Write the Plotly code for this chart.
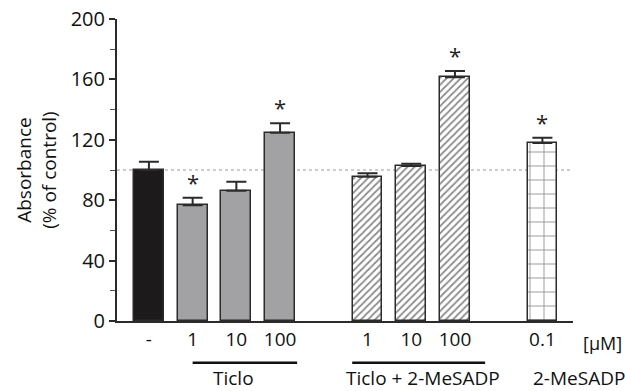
import plotly.graph_objects as go

# ---- data ----
positions = [0, 1, 2, 3, 5, 6, 7, 9]
tick_labels = ["-", "1", "10", "100", "1", "10", "100", "0.1"]
values = [100, 76.6, 86.3, 124.7, 95.6, 102.6, 161.4, 117.9]
errors = [5.5, 5.1, 6.0, 6.2, 2.2, 1.6, 4.2, 3.5]
significant = [False, True, False, True, False, False, True, True]
groups = ["control", "ticlo", "ticlo", "ticlo", "combo", "combo", "combo", "mesadp"]
group_labels = ["Ticlo", "Ticlo + 2-MeSADP"]
group_label_x = [1.93, 6.27]
last_group_label = "2-MeSADP"
group_lines = [(1.0, 3.39), (4.65, 7.69)]
unit_label = "[μM]"

FONT = "Open Sans"
EDGE = "#2b2b2b"
FS = 19

styles = {
    "control": dict(color="#1c1a1b", pattern=None),
    "ticlo": dict(color="#a2a2a4", pattern=None),
    "combo": dict(color="white", pattern=dict(shape="/", fgcolor="#1a1a1a", bgcolor="white", size=5, solidity=0.35)),
    "mesadp": dict(color="white", pattern=dict(shape="+", fgcolor="#1a1a1a", bgcolor="white", size=14, solidity=0.12)),
}

fig = go.Figure()
for key in ["control", "ticlo", "combo", "mesadp"]:
    idx = [i for i, g in enumerate(groups) if g == key]
    st = styles[key]
    marker = dict(color=st["color"], line=dict(color=EDGE, width=1.5))
    if st["pattern"]:
        marker["pattern"] = st["pattern"]
    fig.add_trace(go.Bar(
        x=[positions[i] for i in idx],
        y=[values[i] for i in idx],
        width=0.68,
        marker=marker,
        error_y=dict(type="data", array=[errors[i] for i in idx],
                     arrayminus=[0] * len(idx), symmetric=False,
                     color=EDGE, thickness=2, width=10),
        showlegend=False,
    ))

# reference line at 100 %
fig.add_shape(type="line", xref="paper", yref="y", x0=0, x1=1, y0=100, y1=100,
              line=dict(color="#9a9a9a", width=1, dash="dot"), layer="below")

annotations = []
for p, v, e, s in zip(positions, values, errors, significant):
    if s:
        annotations.append(dict(x=p, y=v + e, xref="x", yref="y", text="*",
                                showarrow=False, yanchor="bottom", yshift=-1,
                                font=dict(family=FONT, size=22, color="#222")))

for (x0, x1) in group_lines:
    fig.add_shape(type="line", xref="x", yref="paper", x0=x0, x1=x1,
                  y0=-0.138, y1=-0.138, line=dict(color="#111", width=2.5))

for lab, gx in zip(group_labels, group_label_x):
    annotations.append(dict(x=gx, y=-0.19, xref="x", yref="paper", text=lab,
                            showarrow=False, yanchor="middle", xanchor="center",
                            font=dict(family=FONT, size=FS, color="#111")))

annotations.append(dict(x=1.118, y=-0.19, xref="paper", yref="paper", text=last_group_label,
                        showarrow=False, yanchor="middle", xanchor="right",
                        font=dict(family=FONT, size=FS, color="#111")))

annotations.append(dict(x=1.064, y=-0.073, xref="paper", yref="paper", text=unit_label,
                        showarrow=False, yanchor="middle", xanchor="center",
                        font=dict(family=FONT, size=FS - 1, color="#111")))

annotations.append(dict(x=-0.178, y=0.50, xref="paper", yref="paper",
                        text="Absorbance<br>(% of control)", textangle=-90,
                        showarrow=False, xanchor="center", yanchor="middle",
                        font=dict(family=FONT, size=FS, color="#111")))

fig.update_layout(
    width=625, height=391,
    margin=dict(l=117, r=52, t=19, b=70, autoexpand=False),
    plot_bgcolor="white", paper_bgcolor="white",
    font=dict(family=FONT, size=FS, color="#111"),
    annotations=annotations,
    bargap=0,
)
fig.update_xaxes(
    range=[-0.73, 9.7], tickmode="array", tickvals=positions, ticktext=tick_labels,
    showline=True, linecolor=EDGE, linewidth=2, ticks="", showgrid=False,
    zeroline=False, tickfont=dict(size=FS), fixedrange=True, automargin=False,
)
fig.update_yaxes(
    range=[0, 200], tickmode="array", tickvals=[0, 40, 80, 120, 160, 200],
    showline=True, linecolor=EDGE, linewidth=2, ticks="outside", ticklen=6,
    tickwidth=1.5, tickcolor=EDGE, showgrid=False, zeroline=False,
    tickfont=dict(size=FS + 1), automargin=False, fixedrange=True,
    minor=dict(tickvals=[20, 60, 100, 140, 180], ticks="outside", ticklen=5,
               tickwidth=1.2, tickcolor="#555"),
)

fig.write_html("out.html", config={"displayModeBar": False},
               post_script="document.body.style.margin='0';document.body.style.overflow='hidden';")
